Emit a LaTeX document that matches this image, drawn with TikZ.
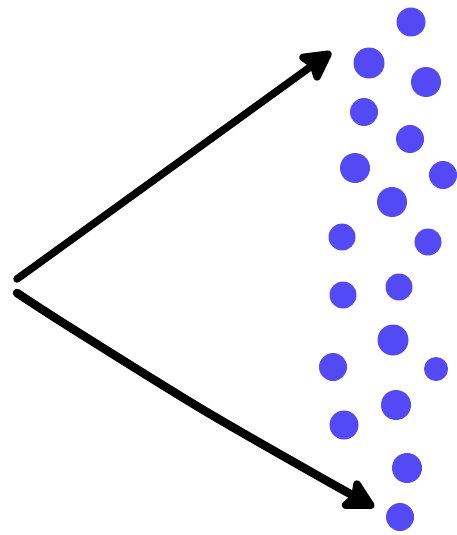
\documentclass[tikz,border=0pt]{standalone}
\usetikzlibrary{arrows.meta}
\definecolor{dotblue}{RGB}{84,74,245}
\begin{document}
\begin{tikzpicture}[x=1pt,y=-1pt]
\useasboundingbox (0,0) rectangle (456,535);

% the two arrows
\coordinate (src1) at (17,279);
\coordinate (src2) at (17,293);
\coordinate (upTip) at (331,52);
\coordinate (lowTip) at (374,507);

\draw[line width=7.5pt, line cap=round, -{Stealth[length=36pt,width=38pt,inset=6pt,round]}]
  (src1) -- (upTip);
\draw[line width=8.5pt, line cap=round, -{Stealth[length=36pt,width=38pt,inset=6pt,round]}]
  plot[smooth, tension=0.5] coordinates {(src2) (68,326) (200,408) (320,477) (lowTip)};

% the dots
\fill[dotblue] (411,22) circle (14.5);
\fill[dotblue] (369,63) circle (15.5);
\fill[dotblue] (426,82) circle (15);
\fill[dotblue] (364,112) circle (14);
\fill[dotblue] (410,139) circle (14);
\fill[dotblue] (355,168) circle (15);
\fill[dotblue] (443,175) circle (14);
\fill[dotblue] (392,202) circle (15);
\fill[dotblue] (342,237) circle (13.5);
\fill[dotblue] (428,242) circle (13.5);
\fill[dotblue] (343,295) circle (13.5);
\fill[dotblue] (399,287) circle (13.5);
\fill[dotblue] (393,340) circle (15.5);
\fill[dotblue] (333,367) circle (14);
\fill[dotblue] (436,369) circle (12);
\fill[dotblue] (396,405) circle (15);
\fill[dotblue] (344,425) circle (14.5);
\fill[dotblue] (407,468) circle (15);
\fill[dotblue] (400,517) circle (14);
\end{tikzpicture}
\end{document}
